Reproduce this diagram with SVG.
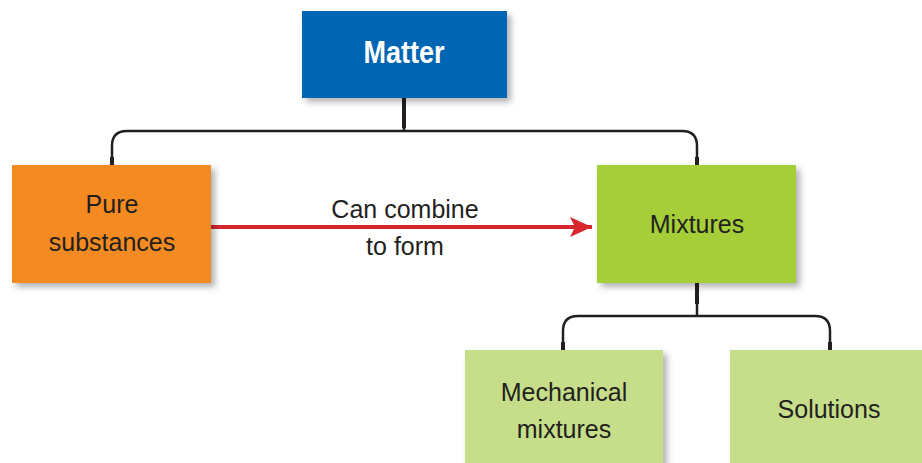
<svg xmlns="http://www.w3.org/2000/svg" width="922" height="463" viewBox="0 0 922 463">
  <defs>
    <filter id="shadow" x="-10%" y="-10%" width="130%" height="130%">
      <feDropShadow dx="4" dy="4" stdDeviation="3" flood-color="#000" flood-opacity="0.3"/>
    </filter>
    <marker id="arrowhead" viewBox="0 0 22 20" refX="22" refY="10" markerWidth="22" markerHeight="20" markerUnits="userSpaceOnUse" orient="auto">
      <path d="M0,0 L22,10 L0,20 L5,10 Z" fill="#d7262e"/>
    </marker>
  </defs>
  <style>
    text { font-family: "Liberation Sans", Arial, sans-serif; font-size: 25px; fill: #231f20; text-anchor: middle; }
    .title { font-weight: bold; font-size: 31px; fill: #ffffff; }
    .box { filter: url(#shadow); }
    .tree { fill: none; stroke: #231f20; stroke-width: 2.5; }
    .stub { stroke: #231f20; stroke-width: 4; }
    .link { fill: none; stroke: #d7262e; stroke-width: 4; }
  </style>
  <rect width="922" height="463" fill="#ffffff"/>

  <g id="connectors">
    <!-- Matter to its two children -->
    <path class="tree" d="M404,98 V131 M112,165 V146 Q112,131 127,131 H682 Q697,131 697,146 V165"/>
    <line class="stub" x1="404" y1="98" x2="404" y2="128"/>
    <line class="stub" x1="112" y1="157" x2="112" y2="165"/>
    <line class="stub" x1="697" y1="157" x2="697" y2="165"/>
    <!-- Mixtures to its two children -->
    <path class="tree" d="M697,283 V316 M563,350 V331 Q563,316 578,316 H815 Q830,316 830,331 V350"/>
    <line class="stub" x1="697" y1="283" x2="697" y2="304"/>
    <line class="stub" x1="563" y1="342" x2="563" y2="350"/>
    <line class="stub" x1="830" y1="342" x2="830" y2="350"/>
    <!-- combine arrow -->
    <line class="link" x1="211" y1="227" x2="592" y2="227" marker-end="url(#arrowhead)"/>
    <text x="405" y="218">Can combine</text>
    <text x="405" y="255">to form</text>
  </g>

  <g id="matter">
    <rect class="box" x="302" y="11" width="205" height="87" fill="#0066b3"/>
    <text class="title" x="404" y="63" textLength="81" lengthAdjust="spacingAndGlyphs">Matter</text>
  </g>

  <g id="pure-substances">
    <rect class="box" x="12" y="165" width="199" height="118" fill="#f38b20"/>
    <text x="112" y="213">Pure</text>
    <text x="112" y="251">substances</text>
  </g>

  <g id="mixtures">
    <rect class="box" x="597" y="165" width="199" height="118" fill="#a6ce39"/>
    <text x="697" y="233">Mixtures</text>
  </g>

  <g id="mechanical-mixtures">
    <rect class="box" x="465" y="350" width="198" height="118" fill="#c6de8a"/>
    <text x="564" y="401">Mechanical</text>
    <text x="564" y="438">mixtures</text>
  </g>

  <g id="solutions">
    <rect class="box" x="730" y="350" width="199" height="118" fill="#c6de8a"/>
    <text x="829" y="418">Solutions</text>
  </g>
</svg>
